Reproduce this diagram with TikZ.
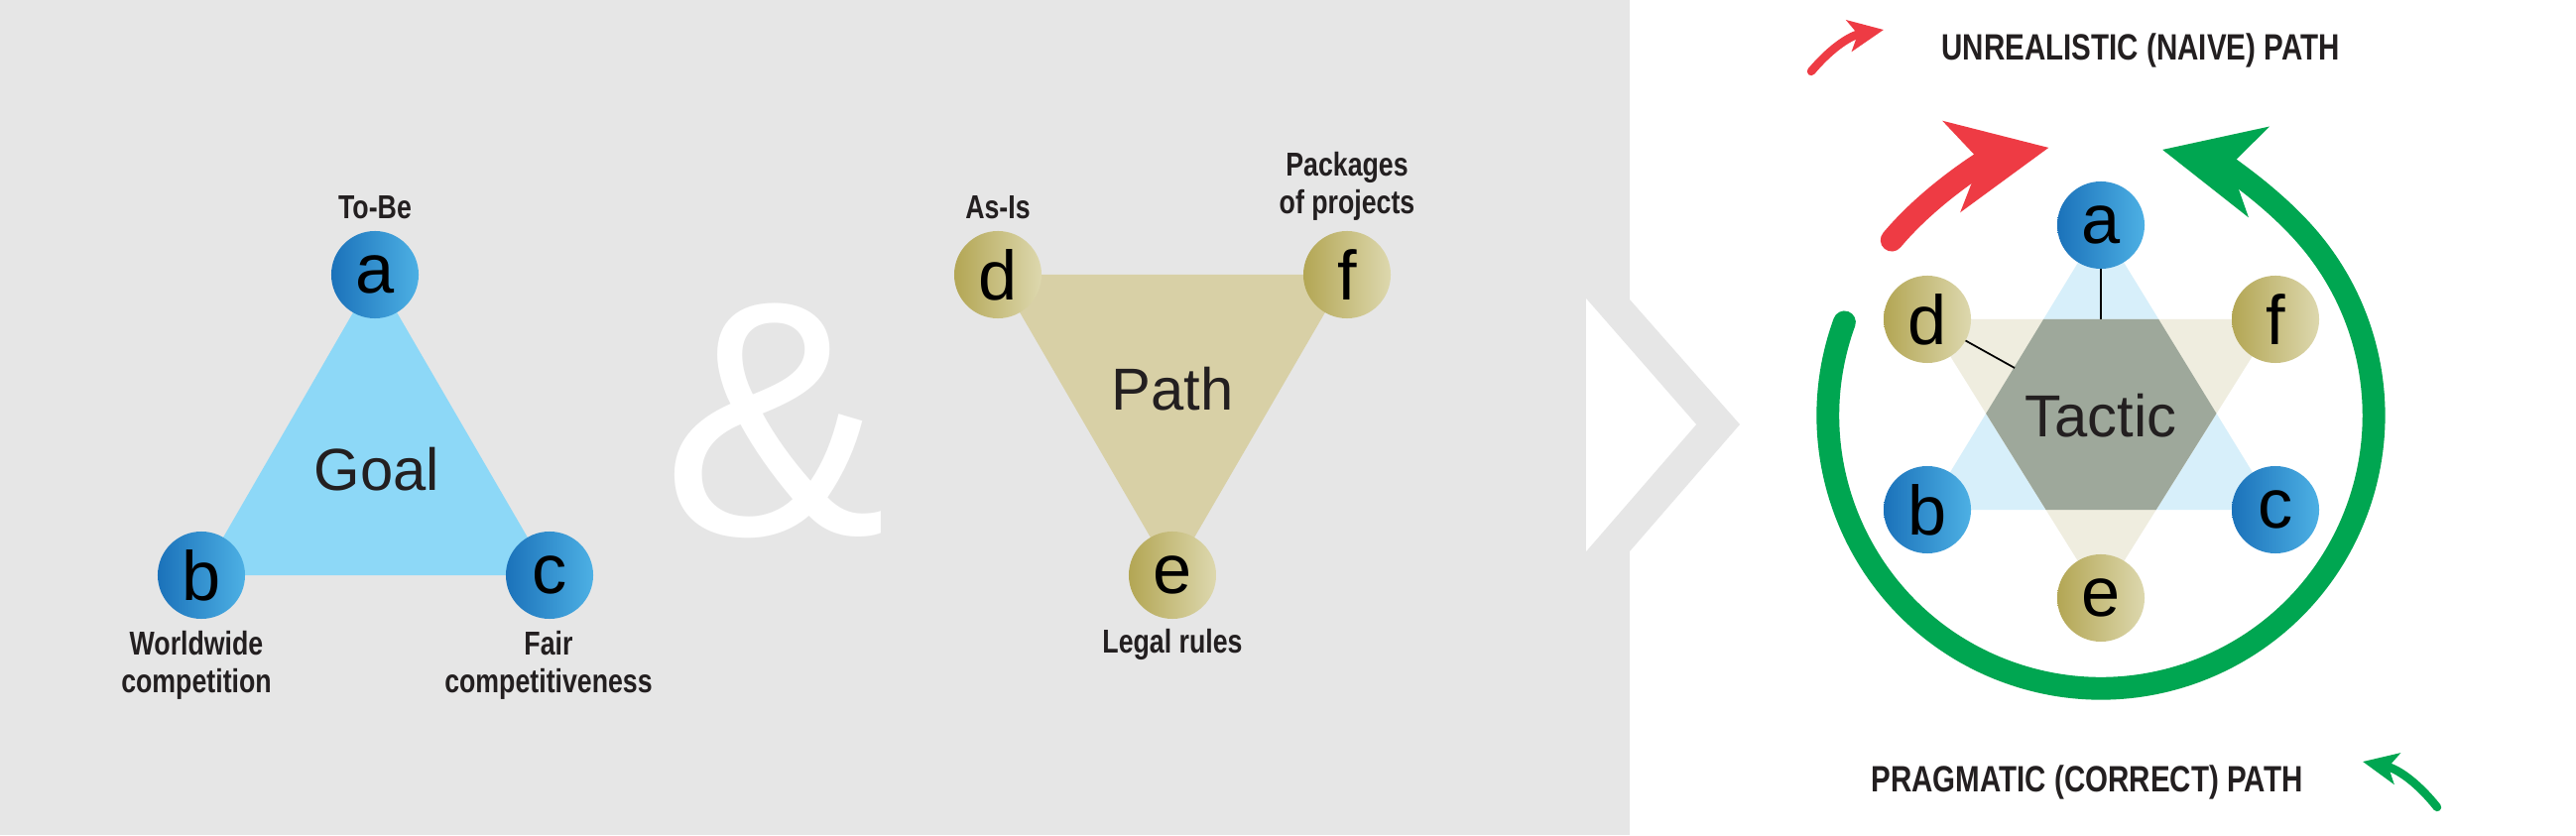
\documentclass[tikz,border=0pt]{standalone}
\usepackage{fontspec}
\setmainfont{Liberation Sans}
\newfontfamily\condf[FakeStretch=0.8]{Liberation Sans}
\usetikzlibrary{arrows.meta,shadings,calc}
\definecolor{bgray}{HTML}{E6E6E6}
\definecolor{txt}{HTML}{231F20}
\definecolor{goalblue}{HTML}{8DD8F7}
\definecolor{pathkh}{HTML}{D8D0A6}
\definecolor{bdark}{HTML}{1B72BA}
\definecolor{blight}{HTML}{4DB0E4}
\definecolor{kdark}{HTML}{B3A654}
\definecolor{klight}{HTML}{DDD8AE}
\definecolor{lblue}{HTML}{D7EFFA}
\definecolor{lkh}{HTML}{EFEDDF}
\definecolor{hexc}{HTML}{9EA89B}
\definecolor{gpath}{HTML}{00A651}
\definecolor{rpath}{HTML}{EE3B44}
\tikzset{
 bnode/.style={circle,minimum size=88pt*0.2845,inner sep=0pt,left color=bdark,right color=blight,font=\fontsize{20}{20}\selectfont,text=black},
 knode/.style={circle,minimum size=88pt*0.2845,inner sep=0pt,left color=kdark,right color=klight,font=\fontsize{20}{20}\selectfont,text=black},
 lbl/.style={font=\condf\bfseries\fontsize{9.5}{11}\selectfont,text=txt,align=center},
 big/.style={font=\fontsize{17}{17}\selectfont,text=txt},
 leg/.style={font=\condf\bfseries\fontsize{10.5}{12}\selectfont,text=txt},
}
\begin{document}
\begin{tikzpicture}[x=0.01cm,y=0.01cm]
\useasboundingbox (0,0) rectangle (2597,842);
\fill[white] (0,0) rectangle (2597,842);
\fill[bgray] (0,0) rectangle (1643,842);
\fill[bgray] (1643,540) -- (1754,414) -- (1643,286) -- cycle;
\fill[white] (1599,541) -- (1710,414) -- (1599,286) -- cycle;
% Goal triangle
\coordinate (pa) at (378,565); \coordinate (pb) at (203,262); \coordinate (pc) at (554,262);
\fill[goalblue] (pa) -- (pb) -- (pc) -- cycle;
\node[big] (goal) at (380,369) {Goal};
\node[bnode] (a1) at (pa) {a};
\node[bnode] (b1) at (pb) {b};
\node[bnode] (c1) at (pc) {c};
\node[lbl] (tobe) at (378,633) {To-Be};
\node[lbl] (ww) at (198,171) {Worldwide\\competition};
\node[lbl] (fair) at (553,171) {Fair\\competitiveness};
\node[text=white,font=\fontsize{96}{96}\selectfont] (amp) at (781,418) {\&};
% Path triangle
\coordinate (pd) at (1006,565); \coordinate (pf) at (1358,565); \coordinate (pe) at (1182,262);
\fill[pathkh] (pd) -- (pf) -- (pe) -- cycle;
\node[big] (path) at (1182,450) {Path};
\node[knode] (d1) at (pd) {d};
\node[knode] (f1) at (pf) {f};
\node[knode] (e1) at (pe) {e};
\node[lbl] (asis) at (1006,633) {As-Is};
\node[lbl] (pkg) at (1358,654) {Packages\\of projects};
\node[lbl] (legal) at (1182,192) {Legal rules};
% Tactic star
\coordinate (C) at (2118,423);
\coordinate (qa) at (2118,615); \coordinate (qb) at (1943,328); \coordinate (qc) at (2294,328);
\coordinate (qd) at (1943,520); \coordinate (qf) at (2294,520); \coordinate (qe) at (2118,239);
\fill[lblue] (qa) -- (qb) -- (qc) -- cycle;
\fill[lkh] (qd) -- (qf) -- (qe) -- cycle;
\begin{scope}
\clip (qa) -- (qb) -- (qc) -- cycle;
\fill[hexc] (qd) -- (qf) -- (qe) -- cycle;
\end{scope}
\coordinate (htop) at (2118,520);
\coordinate (hd) at (2031,471);
\draw[black,line width=0.5pt] (qa) -- (htop);
\draw[black,line width=0.5pt] (qd) -- (hd);
\node[big] (tactic) at (C) {Tactic};
\node[bnode] (a2) at (qa) {a};
\node[bnode] (b2) at (qb) {b};
\node[bnode] (c2) at (qc) {c};
\node[knode] (d2) at (qd) {d};
\node[knode] (f2) at (qf) {f};
\node[knode] (e2) at (qe) {e};
% arcs
\draw[gpath,line width=6.5pt,line cap=round,-{Stealth[length=28pt,width=26pt,inset=8pt]}]
  ($(C)+(160:2.75cm)$) arc[start angle=160,end angle=437,radius=2.75cm];
\draw[rpath,line width=6.5pt,line cap=round,-{Stealth[length=28pt,width=26pt,inset=8pt]}]
  ($(C)+(140:2.75cm)$) arc[start angle=140,end angle=101,radius=2.75cm];
% legend
\coordinate (r0) at (1826,770); \coordinate (r1) at (1899,812);
\draw[rpath,line width=2.4pt,line cap=round,-{Stealth[length=10pt,width=9pt,inset=2.5pt]}] (r0) to[bend left=20] (r1);
\node[leg] (unreal) at (2158,791) {UNREALISTIC (NAIVE) PATH};
\coordinate (g0) at (2457,28); \coordinate (g1) at (2382,74);
\draw[gpath,line width=2.4pt,line cap=round,-{Stealth[length=10pt,width=9pt,inset=2.5pt]}] (g0) to[bend right=20] (g1);
\node[leg] (prag) at (2104,53) {PRAGMATIC (CORRECT) PATH};
\end{tikzpicture}
\end{document}
